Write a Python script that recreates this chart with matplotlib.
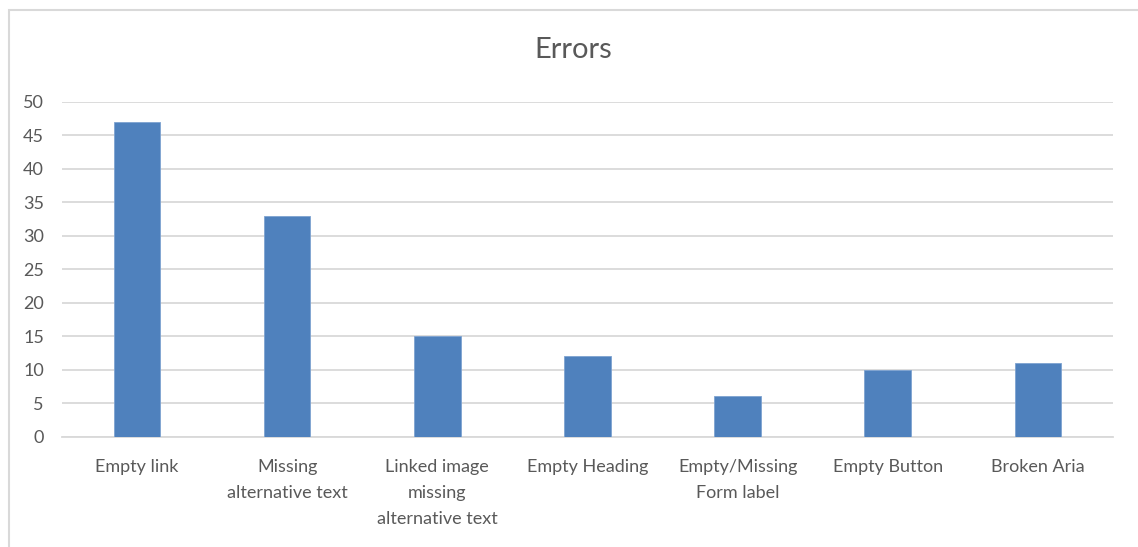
import matplotlib
matplotlib.use("Agg")
import matplotlib.pyplot as plt
from matplotlib.patches import Rectangle

categories = [
    "Empty link",
    "Missing\nalternative text",
    "Linked image\nmissing\nalternative text",
    "Empty Heading",
    "Empty/Missing\nForm label",
    "Empty Button",
    "Broken Aria",
]
errors = [47, 33, 15, 12, 6, 10, 11]
y_ticks = [0, 5, 10, 15, 20, 25, 30, 35, 40, 45, 50]

plt.rcParams["font.family"] = ["Lato", "DejaVu Sans"]

text_color = "#595959"
grid_color = "#d9d9d9"
bar_color = "#4f81bd"

fig = plt.figure(figsize=(11.38, 5.47), dpi=100)
ax = fig.add_axes([0.0545, 0.2017, 0.9235, 0.6124])

x = list(range(len(categories)))
ax.bar(x, errors, width=0.31, color=bar_color, edgecolor="#7ea3d1", linewidth=0.6, zorder=3)

ax.set_xlim(-0.5, len(categories) - 0.5)
ax.set_ylim(0, 50)
ax.set_yticks(y_ticks)
ax.set_yticklabels([str(t) for t in y_ticks])
ax.set_xticks(x)
ax.set_xticklabels(categories, linespacing=1.78, va="top")

ax.grid(axis="y", color=grid_color, linewidth=1.3, zorder=0)
for side in ["top", "right", "left"]:
    ax.spines[side].set_visible(False)
ax.spines["bottom"].set_color(grid_color)
ax.spines["bottom"].set_linewidth(1.3)
ax.tick_params(axis="both", length=0, colors=text_color, labelsize=13)
ax.tick_params(axis="x", pad=16)
ax.tick_params(axis="y", pad=13)

fig.text(0.504, 0.909, "Errors", ha="center", va="center", fontsize=21, color=text_color)

fig.patches.append(Rectangle((9 / 1138, -0.1), 1.2, 1.1 - 10 / 547, transform=fig.transFigure,
                             fill=False, edgecolor=grid_color, linewidth=1.5))

fig.savefig("out.png", dpi=100)
